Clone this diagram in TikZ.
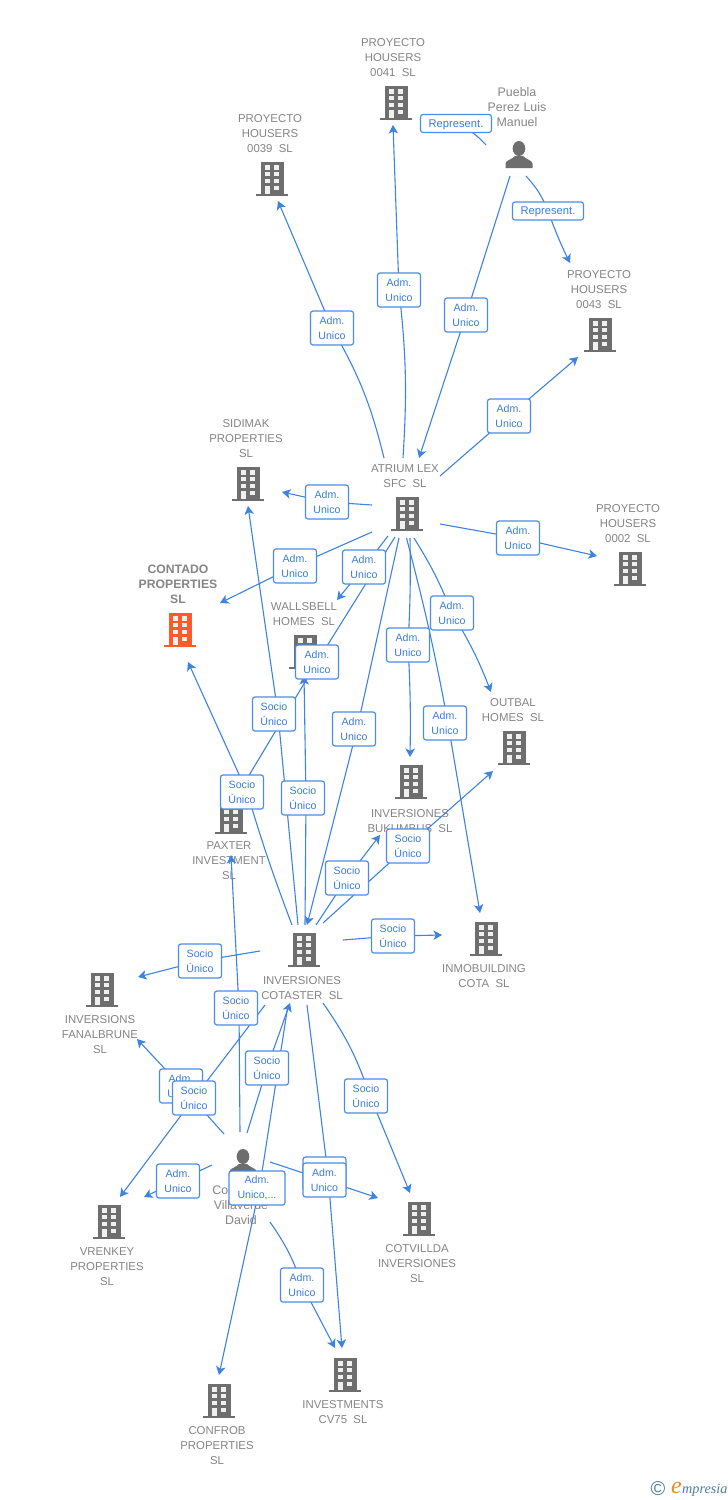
\documentclass[tikz,border=0pt]{standalone}
\usepackage{fontspec}
\setmainfont{Liberation Sans}
\newfontfamily\logofont{Liberation Serif}
\usetikzlibrary{arrows.meta}
\definecolor{conncol}{HTML}{3F83E0}
\definecolor{boxline}{HTML}{4A8CE6}
\definecolor{boxtext}{HTML}{3A7BDD}
\definecolor{labcol}{HTML}{858585}
\definecolor{iconcol}{HTML}{6E6E6E}
\definecolor{hotcol}{HTML}{FF5A2A}
\definecolor{logoblue}{HTML}{4A7F9E}
\definecolor{logoorange}{HTML}{F08A1E}
\pgfdeclarelayer{under}
\pgfdeclarelayer{top}
\pgfsetlayers{under,main,top}
\tikzset{
  conn/.style={draw=conncol,line width=1.1pt,-{Stealth[length=8.5pt,width=9.5pt,inset=2.2pt]}},
  plainconn/.style={draw=conncol,line width=1.1pt},
  lab/.style={text=labcol,align=center,inner sep=0pt,yshift=-1pt,font=\fontsize{11.4}{15}\selectfont},
  plab/.style={lab,yshift=1pt,font=\fontsize{12.4}{15}\selectfont},
  hotlab/.style={lab,yshift=1pt,font=\bfseries\fontsize{12.2}{15}\selectfont},
  tag/.style={draw=boxline,line width=1.2pt,fill=white,rounded corners=2.5pt,text=boxtext,align=center,inner sep=0pt,
    minimum width=43pt,minimum height=34pt,font=\fontsize{10.6}{15}\selectfont,
    execute at begin node={\rule{0pt}{10pt}}},
  widetag/.style={tag,minimum width=56pt},
  reptag/.style={tag,minimum width=71pt,minimum height=18pt,font=\fontsize{11.2}{15}\selectfont},
  iconbox/.style={inner sep=0pt,minimum width=32pt,minimum height=34pt},
}
\newcommand{\bld}[4][iconcol]{%
  \node[iconbox] (#2) at (#3,#4) {};
  \begin{scope}[shift={(#3,#4)}]
    \fill[#1] (-11.5,-17) rectangle (11.5,15.5);
    \fill[#1] (-16,15) rectangle (16,17);
    \foreach \wx in {-7.2,2.2}{
      \fill[white!94!black] (\wx,-14) rectangle ++(5,5);
      \fill[white!94!black] (\wx,-7) rectangle ++(5,4.3);
      \fill[white!94!black] (\wx,0) rectangle ++(5,4.3);
    }
    \fill[white!94!black] (-7.2,6.7) rectangle (-2.2,15);
    \fill[white!94!black] (2.2,6.7) rectangle (7.2,11);
  \end{scope}}
\newcommand{\prs}[3]{%
  \node[iconbox,minimum width=28pt,minimum height=28pt] (#1) at (#2,#3) {};
  \begin{scope}[shift={(#2,#3)}]
    \fill[iconcol] (0,-5.5) ellipse (6.3 and 7.5);
    \fill[iconcol] (-13.5,14) -- (-13.5,9.5) .. controls (-13,6) and (-7,5.5) .. (-4,2) -- (4,2)
      .. controls (7,5.5) and (13,6) .. (13.5,9.5) -- (13.5,14) -- cycle;
  \end{scope}}
\begin{document}
\begin{tikzpicture}[x=1pt,y=-1pt]
\useasboundingbox (0,0) rectangle (728,1500);
\begin{pgfonlayer}{under}
\fill[white] (0,0) rectangle (728,1500);
\bld{pa}{396}{103}
\bld{pb}{272}{179}
\bld{pc}{600}{335}
\bld{sid}{248}{484}
\bld{atr}{407}{514}
\bld{pd}{630}{569}
\bld[hotcol]{con}{180}{630}
\bld{wal}{305}{652}
\bld{out}{514}{748}
\bld{buk}{411}{782}
\bld{pax}{231}{817}
\bld{cot}{304}{950}
\bld{inm}{486}{939}
\bld{fan}{102}{990}
\bld{vre}{109}{1222}
\bld{ctv}{419}{1219}
\bld{inv}{345}{1375}
\bld{cfr}{219}{1401}
\prs{pue}{519}{154}
\prs{kor}{243}{1162}
\node[lab] (tpa) at (393,57) {PROYECTO\\HOUSERS\\0041~~SL};
\node[lab] (tpb) at (270,133) {PROYECTO\\HOUSERS\\0039~~SL};
\node[plab] (tpue) at (517,107) {Puebla\\Perez Luis\\Manuel};
\node[lab] (tpc) at (599,289) {PROYECTO\\HOUSERS\\0043~~SL};
\node[lab] (tsid) at (246,438) {SIDIMAK\\PROPERTIES\\SL};
\node[lab] (tatr) at (405,475.5) {ATRIUM LEX\\SFC~~SL};
\node[lab] (tpd) at (628,523) {PROYECTO\\HOUSERS\\0002~~SL};
\node[hotlab] (tcon) at (178,584) {CONTADO\\PROPERTIES\\SL};
\node[lab] (twal) at (304,613.5) {WALLSBELL\\HOMES~~SL};
\node[lab] (tout) at (513,709.5) {OUTBAL\\HOMES~~SL};
\node[lab] (tbuk) at (410,820) {INVERSIONES\\BUKUMBUS~~SL};
\node[lab] (tpax) at (229,860) {PAXTER\\INVESTMENT\\SL};
\node[lab] (tcot) at (302,987.5) {INVERSIONES\\COTASTER~~SL};
\node[lab] (tinm) at (484,975.5) {INMOBUILDING\\COTA~~SL};
\node[lab] (tfan) at (100,1034) {INVERSIONS\\FANALBRUNE\\SL};
\node[lab] (tvre) at (107,1266) {VRENKEY\\PROPERTIES\\SL};
\node[lab] (tctv) at (417,1263) {COTVILLDA\\INVERSIONES\\SL};
\node[lab] (tinv) at (343,1411.5) {INVESTMENTS\\CV75~~SL};
\node[lab] (tcfr) at (217,1445) {CONFROB\\PROPERTIES\\SL};
\node[plab] (tkor) at (241,1205) {Co\phantom{rtesano}\\Villaverde\\David};
\node[inner sep=0pt,text=logoblue,font=\fontsize{20}{20}\selectfont] (logoc) at (658,1489) {\textcopyright};
\node[inner sep=0pt,anchor=base west,text=logoblue,font=\logofont\itshape\fontsize{14.2}{14.2}\selectfont] (logot) at (682,1493) {mpresia};
\node[inner sep=0pt,anchor=base east,text=logoorange,font=\logofont\itshape\fontsize{24}{24}\selectfont] (logoe) at (682,1493) {e};
\end{pgfonlayer}
\begin{pgfonlayer}{top}
\node[tag] (b1) at (332,328) {Adm.\\Unico};
\node[tag] (b2) at (399,290) {Adm.\\Unico};
\node[tag] (b3) at (466,315) {Adm.\\Unico};
\node[reptag] (r1) at (456,123.5) {Represent.};
\node[reptag] (r2) at (548,211) {Represent.};
\node[tag] (b6) at (509,416) {Adm.\\Unico};
\node[tag] (b7) at (518,538) {Adm.\\Unico};
\node[tag] (b8) at (327,502) {Adm.\\Unico};
\node[tag] (b9) at (295,566) {Adm.\\Unico};
\node[tag] (b10) at (364,567) {Adm.\\Unico};
\node[tag] (b12) at (354,729) {Adm.\\Unico};
\node[tag] (b13) at (408,645) {Adm.\\Unico};
\node[tag] (b14) at (452,613) {Adm.\\Unico};
\node[tag] (b15) at (445,723) {Adm.\\Unico};
\node[tag] (b11) at (317,662) {Adm.\\Unico};
\node[tag] (s16) at (274,714) {Socio\\Único};
\node[tag] (s17) at (303,798) {Socio\\Único};
\node[tag] (s18) at (242,792) {Socio\\Único};
\node[tag] (s20) at (347,878) {Socio\\Único};
\node[tag] (s21) at (408,846) {Socio\\Único};
\node[tag] (s22) at (393,936) {Socio\\Único};
\node[tag] (s23) at (200,961) {Socio\\Único};
\node[tag] (s27) at (236,1008) {Socio\\Único};
\node[tag] (s28) at (267,1068) {Socio\\Único};
\node[tag] (a29) at (181,1086) {Adm.\\Unico};
\node[tag] (s24) at (194,1098) {Socio\\Único};
\node[tag] (s25) at (366,1096) {Socio\\Único};
\node[tag] (s26) at (324.5,1174) {};
\node[tag] (a32) at (324.5,1180) {Adm.\\Unico};
\node[tag] (a30) at (178,1181) {Adm.\\Unico};
\node[widetag] (a31) at (257,1188) {Adm.\\Unico,...};
\node[tag] (a33) at (302,1285) {Adm.\\Unico};
\end{pgfonlayer}
% connectors
\draw[conn] ([shift={(-23,-56)}]atr.center) to[bend right=8] (b1.center) -- ([shift={(6,22)}]pb.center);
\draw[conn] ([shift={(-4,-56)}]atr.center) to[bend right=5] (b2.center) -- ([shift={(-3,22)}]pa.center);
\draw[conn] ([shift={(-9,22)}]pue.center) -- (b3.center) -- ([shift={(12,-56)}]atr.center);
\draw[plainconn] ([shift={(-33,-9)}]pue.center) to[bend right=12] (r1.center);
\draw[conn] ([shift={(7,22)}]pue.center) to[bend left=10] (r2.center) to[bend right=3] ([shift={(-30,-72)}]pc.center);
\draw[conn] ([shift={(33,-38)}]atr.center) -- (b6.center) -- ([shift={(-22,22)}]pc.center);
\draw[conn] ([shift={(33,10)}]atr.center) -- (b7.center) -- ([shift={(-33,-13)}]pd.center);
\draw[conn] ([shift={(-35,-9)}]atr.center) -- (b8.center) -- ([shift={(34,8)}]sid.center);
\draw[conn] ([shift={(-35,18)}]atr.center) -- (b9.center) -- ([shift={(40,-27)}]con.center);
\draw[conn] ([shift={(-19,22)}]atr.center) -- (b10.center) -- ([shift={(32,-52)}]wal.center);
\draw[plainconn] ([shift={(-12,23)}]atr.center) -- (b11.center);
\draw[conn] ([shift={(-8,24)}]atr.center) -- ([xshift=3pt]b12.center) -- ([shift={(3,-25)}]cot.center);
\draw[conn] ([shift={(3,24)}]atr.center) to[bend left=2] (b13.center) to[bend left=2] ([shift={(-1,-25)}]buk.center);
\draw[conn] ([shift={(7,24)}]atr.center) to[bend left=5] (b14.center) to[bend left=5] ([shift={(-23,-56)}]out.center);
\draw[conn] ([shift={(-0.5,24)}]atr.center) to[bend left=2] ([xshift=3pt]b15.center) -- ([shift={(-6,-26)}]inm.center);
\draw[conn] ([shift={(-6,-25)}]cot.center) -- ([xshift=4pt]s16.center) -- ([shift={(0,22)}]sid.center);
\draw[conn] ([shift={(1,-25)}]cot.center) -- ([xshift=3pt]s17.center) -- ([shift={(-1,24)}]wal.center);
\draw[conn] ([shift={(-12,-25)}]cot.center) to[bend left=2] ([xshift=5pt]s18.center) -- ([shift={(8,32)}]con.center);
\draw[plainconn] ([shift={(8,-25)}]pax.center) -- (b11.center);
\draw[conn] ([shift={(12,-25)}]cot.center) -- (s20.center) -- ([shift={(-31,53)}]buk.center);
\draw[conn] ([shift={(19,-27)}]cot.center) -- (s21.center) -- ([shift={(-21,23)}]out.center);
\draw[conn] ([shift={(39,-10)}]cot.center) -- (s22.center) -- ([shift={(-44,-4)}]inm.center);
\draw[conn] ([shift={(-44,1)}]cot.center) -- (s23.center) -- ([shift={(36,-13)}]fan.center);
\draw[conn] ([shift={(-39,55)}]cot.center) -- (s24.center) -- ([shift={(11,-25)}]vre.center);
\draw[conn] ([shift={(19,53)}]cot.center) to[bend left=8] ([xshift=4pt]s25.center) -- ([shift={(-9,-26)}]ctv.center);
\draw[conn] ([shift={(3,55)}]cot.center) -- ([xshift=3.5pt]s26.center) -- ([shift={(-3,-27)}]inv.center);
\draw[conn] ([shift={(-3,-30)}]kor.center) -- ([xshift=3pt]s27.center) -- ([shift={(0,38)}]pax.center);
\draw[conn] ([shift={(4,-29)}]kor.center) -- (s28.center) -- ([shift={(-14,53)}]cot.center);
\draw[conn] ([shift={(-19,-28)}]kor.center) -- (a29.center) -- ([shift={(35,49)}]fan.center);
\draw[conn] ([shift={(-31,3)}]kor.center) -- (a30.center) -- ([shift={(35,-25)}]vre.center);
\draw[conn] ([shift={(-16,55)}]cot.center) -- ([xshift=2.5pt]a31.center) -- ([shift={(0,-26)}]cfr.center);
\draw[conn] ([shift={(27,0)}]kor.center) -- (a32.center) -- ([shift={(-41,-21)}]ctv.center);
\draw[conn] ([shift={(27,60)}]kor.center) to[bend left=8] (a33.center) -- ([shift={(-10,-27)}]inv.center);
\end{tikzpicture}
\end{document}
